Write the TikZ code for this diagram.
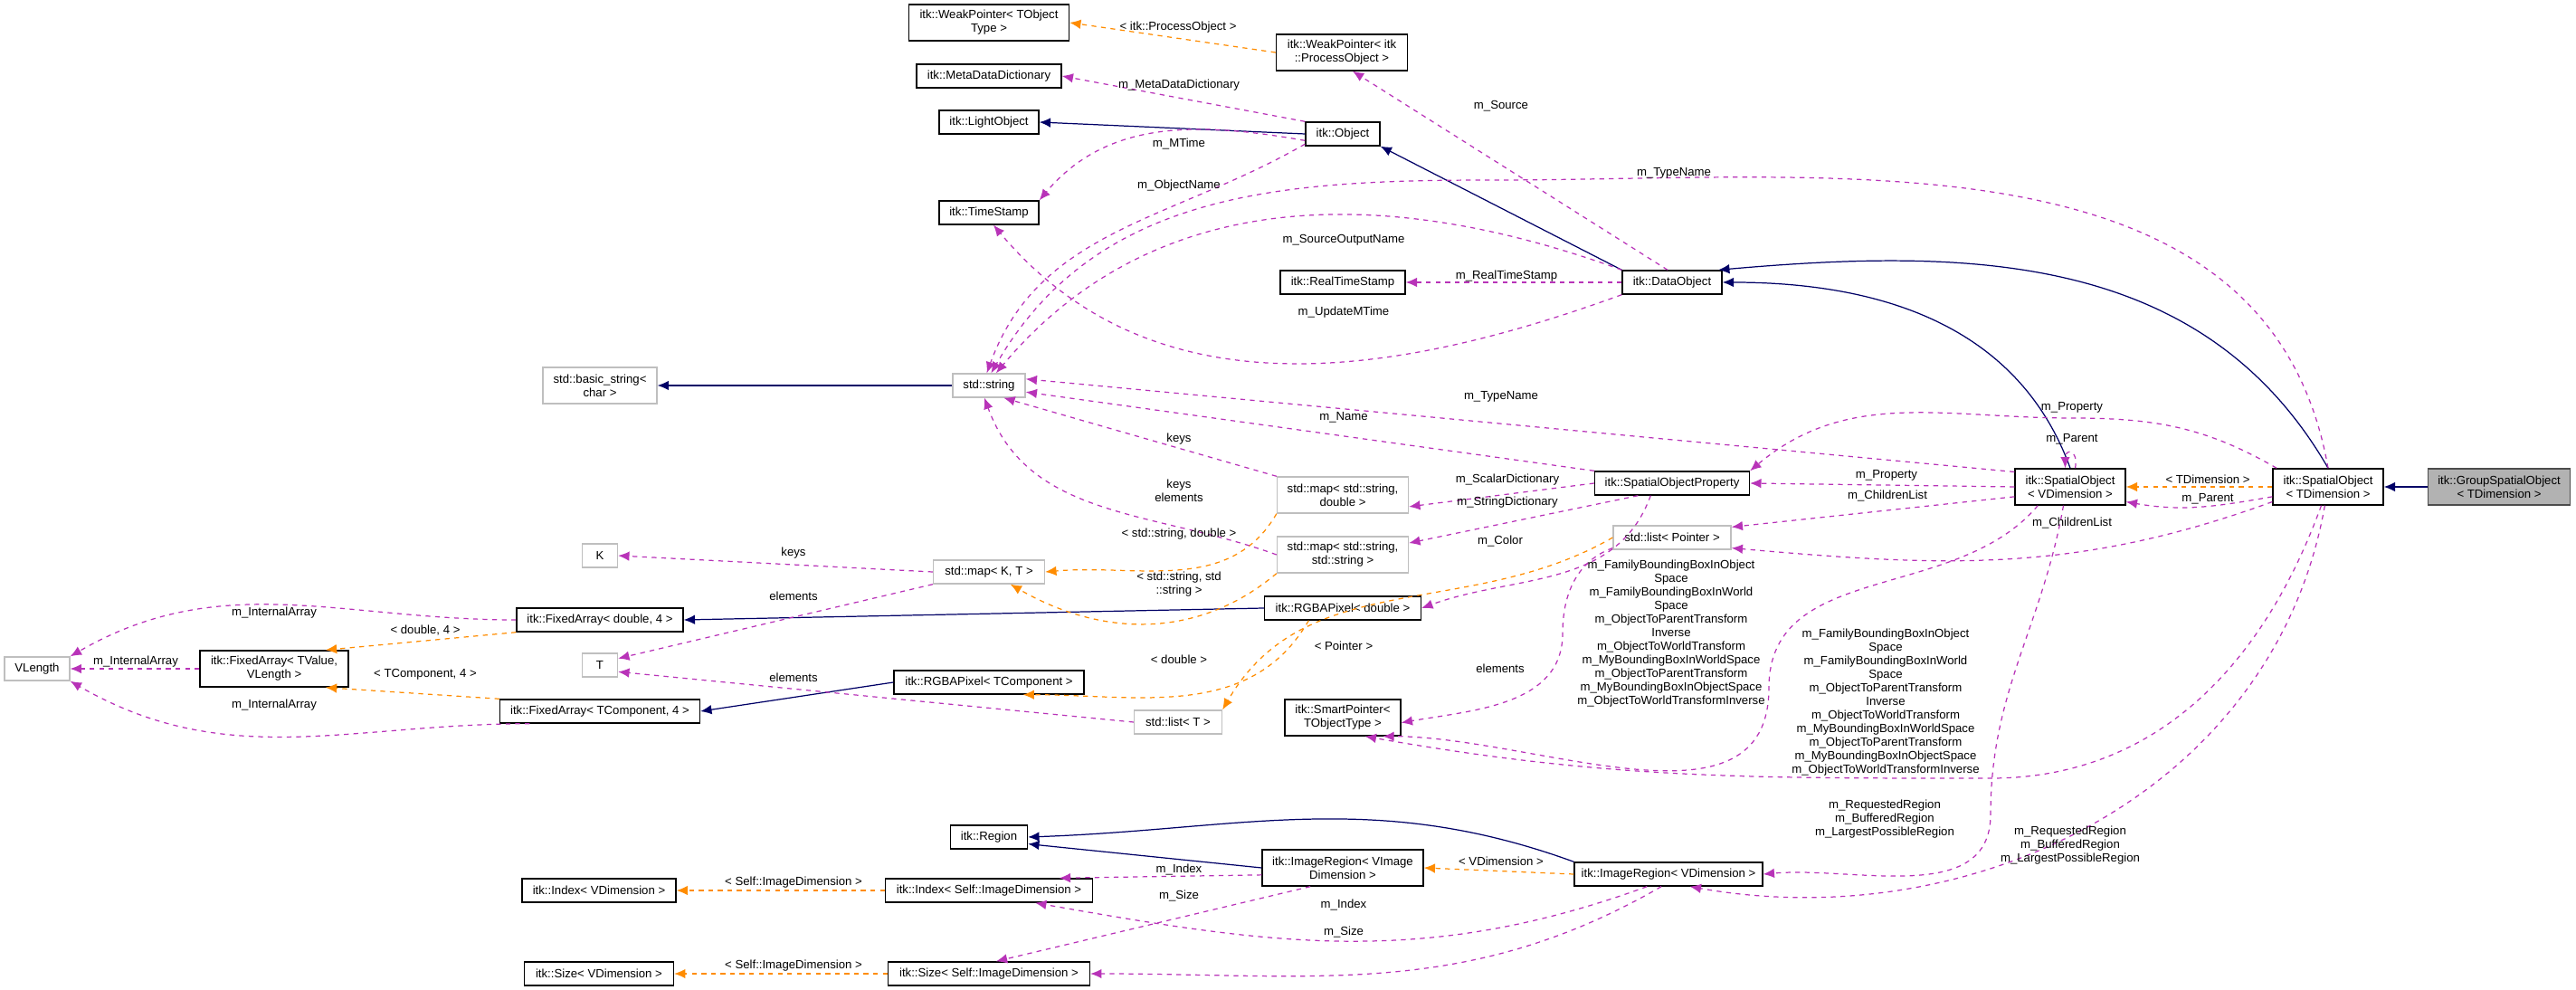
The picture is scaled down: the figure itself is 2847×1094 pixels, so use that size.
\documentclass[tikz,border=0pt]{standalone}
\usepackage{fontspec}
\setmainfont{Liberation Sans}
\usetikzlibrary{arrows.meta,positioning}

\tikzset{
  box/.style={draw=black, line width=0.8pt, fill=white, inner sep=1pt, align=center, minimum height=0.52cm, font=\fontsize{7.5}{8.5}\selectfont},
  ext/.style={box, draw=black!25},
  cur/.style={box, fill=black!30, draw=black!70},
  two/.style={minimum height=0.8cm},
  lbl/.style={inner sep=0pt, align=center, font=\fontsize{7.5}{8.5}\selectfont},
  inh/.style={draw=blue!40!black, line width=0.7pt, -{Latex[length=7pt,width=6pt]}},
  mem/.style={draw=violet!70!magenta!80, dashed, line width=0.7pt, -{Latex[length=7pt,width=6pt]}},
  tpl/.style={draw=orange!90!yellow, dashed, line width=0.7pt, -{Latex[length=7pt,width=6pt]}}
}

\begin{document}
\begin{tikzpicture}[x=0.02cm, y=-0.02cm]
  \useasboundingbox (0,0) rectangle (2847,1094);

  % the classes
  \node[box, two, minimum width=3.54cm] (wpt) at (1093,25) {itk::WeakPointer< TObject\\Type >};
  \node[box, two, minimum width=2.9cm] (wppo) at (1483,58) {itk::WeakPointer< itk\\::ProcessObject >};
  \node[box, minimum width=3.2cm] (mdd) at (1093,84) {itk::MetaDataDictionary};
  \node[box, minimum width=2.2cm] (lobj) at (1093,135) {itk::LightObject};
  \node[box, minimum width=1.64cm] (obj) at (1484,148) {itk::Object};
  \node[box, minimum width=2.2cm] (ts) at (1093,235) {itk::TimeStamp};
  \node[box, minimum width=2.76cm] (rts) at (1484,312) {itk::RealTimeStamp};
  \node[box, minimum width=2.2cm] (dobj) at (1848,312) {itk::DataObject};
  \node[ext, minimum width=1.6cm] (str) at (1093,426) {std::string};
  \node[ext, two, minimum width=2.52cm] (bstr) at (663,426) {std::basic\_string<\\char >};
  \node[box, minimum width=3.42cm] (sop) at (1848,534) {itk::SpatialObjectProperty};
  \node[ext, two, minimum width=2.9cm] (msd) at (1484,547) {std::map< std::string,\\double >};
  \node[ext, two, minimum width=2.9cm] (mss) at (1484,613) {std::map< std::string,\\std::string >};
  \node[ext, minimum width=2.46cm] (mkt) at (1093,632) {std::map< K, T >};
  \node[box, minimum width=3.46cm] (rgbad) at (1484,672) {itk::RGBAPixel< double >};
  \node[box, minimum width=4.2cm] (rgbat) at (1093,754) {itk::RGBAPixel< TComponent >};
  \node[ext, minimum width=1.94cm] (listt) at (1302,798) {std::list< T >};
  \node[box, two, minimum width=2.56cm] (sptr) at (1484,793) {itk::SmartPointer<\\TObjectType >};
  \node[ext, minimum width=2.6cm] (listp) at (1848,594) {std::list< Pointer >};
  \node[box, minimum width=1.7cm] (reg) at (1093,925) {itk::Region};
  \node[box, two, minimum width=3.56cm] (irv) at (1484,959) {itk::ImageRegion< VImage\\Dimension >};
  \node[box, minimum width=4.16cm] (irvd) at (1844,966) {itk::ImageRegion< VDimension >};
  \node[box, minimum width=4.58cm] (idxs) at (1093,984) {itk::Index< Self::ImageDimension >};
  \node[box, minimum width=4.46cm] (sizes) at (1093,1076) {itk::Size< Self::ImageDimension >};
  \node[ext, minimum width=0.78cm] (kk) at (663,614) {K};
  \node[ext, minimum width=0.78cm] (tt) at (663,735) {T};
  \node[box, minimum width=3.68cm] (fad) at (663,685) {itk::FixedArray< double, 4 >};
  \node[ext, minimum width=1.44cm] (vlen) at (41,739) {VLength};
  \node[box, two, minimum width=3.28cm] (fatv) at (303,739) {itk::FixedArray< TValue,\\VLength >};
  \node[box, minimum width=4.42cm] (fatc) at (663,786) {itk::FixedArray< TComponent, 4 >};
  \node[box, minimum width=3.4cm] (idxv) at (662,984) {itk::Index< VDimension >};
  \node[box, minimum width=3.3cm] (sizev) at (662,1076) {itk::Size< VDimension >};
  \node[box, two, minimum width=2.44cm] (sov) at (2288,538) {itk::SpatialObject\\< VDimension >};
  \node[box, two, minimum width=2.44cm] (sot) at (2573,538) {itk::SpatialObject\\< TDimension >};
  \node[cur, two, minimum width=3.14cm] (gso) at (2762,538) {itk::GroupSpatialObject\\< TDimension >};

  % inheritance
  \draw[inh] (gso) -- (sot);
  \draw[inh] (obj.west) -- (lobj.east);
  \draw[inh] (dobj.north west) -- (obj.south east);
  \draw[inh] (str) -- (bstr);
  \draw[inh] (sov.north) to[out=110, in=0] (dobj.east);
  \draw[inh] (sot.north) to[out=120, in=5] (dobj.15);
  \draw[inh] (rgbad.west) -- (fad.east);
  \draw[inh] (rgbat.west) -- (fatc.east);
  \draw[inh] (irvd.north west) to[out=160, in=2] (reg.east);
  \draw[inh] (irv.west) -- (reg.-10);

  % templates
  \draw[tpl] (wppo.west) -- (wpt.east);
  \draw[tpl] (sot.west) -- (sov.east);
  \draw[tpl] (msd.south west) to[out=-120, in=5] (mkt.east);
  \draw[tpl] (mss.south west) to[out=-140, in=-30] (mkt.-30);
  \draw[tpl] (rgbad.-160) to[out=-120, in=0] (rgbat.-20);
  \draw[tpl] (listp.west) to[out=-150, in=60] (listt.north east);
  \draw[tpl] (irvd.west) -- (irv.east);
  \draw[tpl] (idxs.west) -- (idxv.east);
  \draw[tpl] (sizes.west) -- (sizev.east);
  \draw[tpl] (fad.south west) -- (fatv.20);
  \draw[tpl] (fatc.north west) -- (fatv.-20);

  % members
  \draw[mem] (obj.north west) -- (mdd.east);
  \draw[mem] (obj.-170) to[out=170, in=50] (ts.north east);
  \draw[mem] (obj.-165) to[out=-150, in=70] (str.100);
  \draw[mem] (dobj.110) -- (wppo.-60);
  \draw[mem] (sot.north) to[out=100, in=0] (1650,199) to[out=180, in=60] (str.80);
  \draw[mem] (dobj.north west) to[out=160, in=50] (str.60);
  \draw[mem] (dobj.west) -- (rts.east);
  \draw[mem] (dobj.south west) to[out=-160, in=-50] (ts.-70);
  \draw[mem] (sov.165) -- (str.10);
  \draw[mem] (sop.north west) -- (str.-10);
  \draw[mem] (msd.north west) -- (str.-40);
  \draw[mem] (mss.west) to[out=160, in=-70] (str.-110);
  \draw[mem] (sop.west) -- (msd.-10);
  \draw[mem] (sop.-160) -- (mss.10);
  \draw[mem] (sop.-150) to[out=-110, in=20] (rgbad.east);
  \draw[mem] (mkt.west) -- (kk.east);
  \draw[mem] (mkt.south west) -- (tt.20);
  \draw[mem] (listt.west) -- (tt.-20);
  \draw[mem] (listp.-170) to[out=-160, in=90] (1727,700) to[out=-90, in=10] (sptr.-5);
  \draw[mem] (sov.-150) to[out=-130, in=90] (1955,760) to[out=-90, in=0] (sptr.-25);
  \draw[mem] (sot.-110) to[out=-110, in=0] (2200,860) to[out=180, in=-10] (sptr.-40);
  \draw[mem] (sov.-170) -- (listp.10);
  \draw[mem] (sot.-165) to[out=-160, in=-5] (listp.-10);
  \draw[mem] (sov.west) -- (sop.east);
  \draw[mem] (sot.160) to[out=150, in=0] (2290,462) to[out=180, in=40] (sop.north east);
  \draw[mem] (sov.75) to[out=80, in=90, looseness=5] (sov.105);
  \draw[mem] (sot.-170) to[out=-170, in=-10] (sov.-15);
  \draw[mem] (sov.-110) to[out=-100, in=90] (2200,900) to[out=-90, in=5] (irvd.east);
  \draw[mem] (sot.-100) to[out=-100, in=-10] (irvd.-30);
  \draw[mem] (irv.-175) -- (idxs.10);
  \draw[mem] (irv.-150) -- (sizes.60);
  \draw[mem] (irvd.-150) to[out=-160, in=-10] (idxs.-15);
  \draw[mem] (irvd.-120) to[out=-150, in=0] (sizes.east);
  \draw[mem] (fad.west) to[out=180, in=30] (vlen.north east);
  \draw[mem] (fatv.west) -- (vlen.east);
  \draw[mem] (fatc.-170) to[out=180, in=-30] (vlen.south east);

  % the texts on the connectors
  \node[lbl] (l1) at (1302,30) {< itk::ProcessObject >};
  \node[lbl] (l2) at (1303,94) {m\_MetaDataDictionary};
  \node[lbl] (l3) at (1303,159) {m\_MTime};
  \node[lbl] (l4) at (1303,205) {m\_ObjectName};
  \node[lbl] (l5) at (1659,117) {m\_Source};
  \node[lbl] (l6) at (1850,191) {m\_TypeName};
  \node[lbl] (l7) at (1485,265) {m\_SourceOutputName};
  \node[lbl] (l8) at (1665,305) {m\_RealTimeStamp};
  \node[lbl] (l9) at (1485,345) {m\_UpdateMTime};
  \node[lbl] (l10) at (1659,438) {m\_TypeName};
  \node[lbl] (l11) at (1485,461) {m\_Name};
  \node[lbl] (l12) at (1303,485) {keys};
  \node[lbl] (l13) at (1303,542) {keys\\elements};
  \node[lbl] (l14) at (1666,530) {m\_ScalarDictionary};
  \node[lbl] (l15) at (1666,555) {m\_StringDictionary};
  \node[lbl] (l16) at (1658,598) {m\_Color};
  \node[lbl] (l17) at (1303,590) {< std::string, double >};
  \node[lbl] (l18) at (1303,646) {< std::string, std\\::string >};
  \node[lbl] (l19) at (877,611) {keys};
  \node[lbl] (l20) at (877,659) {elements};
  \node[lbl] (l21) at (877,749) {elements};
  \node[lbl] (l22) at (1303,729) {< double >};
  \node[lbl] (l23) at (1485,714) {< Pointer >};
  \node[lbl] (l24) at (1658,739) {elements};
  \node[lbl] (l25) at (1847,700) {m\_FamilyBoundingBoxInObject\\Space\\m\_FamilyBoundingBoxInWorld\\Space\\m\_ObjectToParentTransform\\Inverse\\m\_ObjectToWorldTransform\\m\_MyBoundingBoxInWorldSpace\\m\_ObjectToParentTransform\\m\_MyBoundingBoxInObjectSpace\\m\_ObjectToWorldTransformInverse};
  \node[lbl] (l26) at (2084,776) {m\_FamilyBoundingBoxInObject\\Space\\m\_FamilyBoundingBoxInWorld\\Space\\m\_ObjectToParentTransform\\Inverse\\m\_ObjectToWorldTransform\\m\_MyBoundingBoxInWorldSpace\\m\_ObjectToParentTransform\\m\_MyBoundingBoxInObjectSpace\\m\_ObjectToWorldTransformInverse};
  \node[lbl] (l27) at (2086,548) {m\_ChildrenList};
  \node[lbl] (l28) at (2290,578) {m\_ChildrenList};
  \node[lbl] (l29) at (2085,525) {m\_Property};
  \node[lbl] (l30) at (2290,450) {m\_Property};
  \node[lbl] (l31) at (2290,485) {m\_Parent};
  \node[lbl] (l32) at (2440,530) {< TDimension >};
  \node[lbl] (l33) at (2440,551) {m\_Parent};
  \node[lbl] (l34) at (2083,905) {m\_RequestedRegion\\m\_BufferedRegion\\m\_LargestPossibleRegion};
  \node[lbl] (l35) at (2288,934) {m\_RequestedRegion\\m\_BufferedRegion\\m\_LargestPossibleRegion};
  \node[lbl] (l36) at (1659,952) {< VDimension >};
  \node[lbl] (l37) at (1303,961) {m\_Index};
  \node[lbl] (l38) at (1303,990) {m\_Size};
  \node[lbl] (l39) at (1485,1000) {m\_Index};
  \node[lbl] (l40) at (1485,1030) {m\_Size};
  \node[lbl] (l41) at (877,975) {< Self::ImageDimension >};
  \node[lbl] (l42) at (877,1067) {< Self::ImageDimension >};
  \node[lbl] (l43) at (303,677) {m\_InternalArray};
  \node[lbl] (l44) at (150,731) {m\_InternalArray};
  \node[lbl] (l45) at (303,779) {m\_InternalArray};
  \node[lbl] (l46) at (470,697) {< double, 4 >};
  \node[lbl] (l47) at (470,745) {< TComponent, 4 >};
\end{tikzpicture}
\end{document}
